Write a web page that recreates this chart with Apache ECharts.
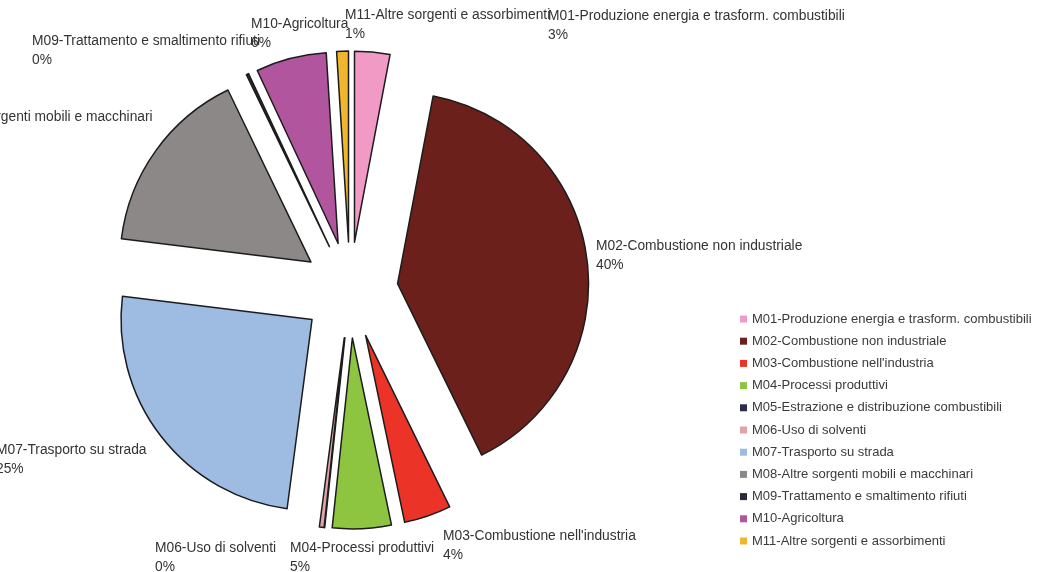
<!DOCTYPE html>
<html>
<head>
<meta charset="utf-8">
<script src="https://cdn.jsdelivr.net/npm/echarts@6/dist/echarts.min.js"></script>
<style>
  html, body { margin: 0; padding: 0; background: #ffffff; }
  #chart { width: 1048px; height: 572px; }
</style>
</head>
<body>
<div id="chart"></div>
<script>
// Emission sources (macrosectors) and their share of the total
const categories = [
  'M01-Produzione energia e trasform. combustibili',
  'M02-Combustione non industriale',
  "M03-Combustione nell'industria",
  'M04-Processi produttivi',
  'M05-Estrazione e distribuzione combustibili',
  'M06-Uso di solventi',
  'M07-Trasporto su strada',
  'M08-Altre sorgenti mobili e macchinari',
  'M09-Trattamento e smaltimento rifiuti',
  'M10-Agricoltura',
  'M11-Altre sorgenti e assorbimenti'
];
const shares = [3, 40, 4, 5, 0, 0.4, 25, 16, 0.2, 6, 1];

const sliceColors = [
  '#F29AC6', '#6B201C', '#EC3327', '#8DC540', '#2C2C52', '#E0A3A6',
  '#9EBBE2', '#8C8888', '#2A2A38', '#B2559F', '#F0B72E'
];

// Where each data label's text block starts (left, top)
const labelSpots = [
  [548, 7], [596, 237], [443, 527], [290, 539], [0, 0], [155, 539],
  [-4, 441], [-82, 108], [32, 32], [251, 15], [345, 6]
];

const FONT = 'Liberation Sans, Arial, sans-serif';
const PIE_CENTER = [350, 290];
const PIE_RADIUS = 191;

const chart = echarts.init(document.getElementById('chart'), null, { renderer: 'canvas' });

// Exploded slices: every slice is pulled out from the centre
const sliceData = categories.map((name, i) => ({
  name: name,
  value: shares[i],
  selected: true,
  itemStyle: { color: sliceColors[i] }
}));

// Same values again, drawn unfilled, carrying the data labels
const labelData = categories.map((name, i) => ({
  name: name,
  value: shares[i],
  label: { show: i !== 4 }
}));

chart.setOption({
  backgroundColor: '#ffffff',
  animation: false,
  color: sliceColors,
  legend: {
    orient: 'vertical',
    left: 735,
    top: 307,
    icon: 'rect',
    itemWidth: 7,
    itemHeight: 7,
    itemGap: 8.2,
    data: categories,
    selectedMode: false,
    itemStyle: { borderWidth: 0 },
    textStyle: {
      fontFamily: FONT,
      fontSize: 13,
      lineHeight: 14,
      color: '#3a3a3a'
    }
  },
  series: [{
    type: 'pie',
    center: PIE_CENTER,
    radius: PIE_RADIUS,
    startAngle: 90,
    clockwise: true,
    selectedMode: 'multiple',
    selectedOffset: 48,
    avoidLabelOverlap: false,
    emphasis: { disabled: true },
    itemStyle: { borderColor: '#1c1c1c', borderWidth: 1.5 },
    select: { itemStyle: { borderColor: '#1c1c1c', borderWidth: 1.5 } },
    label: { show: false },
    labelLine: { show: false },
    data: sliceData
  }, {
    type: 'pie',
    center: PIE_CENTER,
    radius: PIE_RADIUS,
    startAngle: 90,
    clockwise: true,
    silent: true,
    z: 3,
    avoidLabelOverlap: false,
    emphasis: { disabled: true },
    itemStyle: { color: 'rgba(0,0,0,0)', borderWidth: 0 },
    label: {
      show: true,
      position: 'outside',
      fontFamily: FONT,
      fontSize: 13.8,
      lineHeight: 19,
      color: '#333333',
      formatter: p => p.name + '\n' + Math.round(p.percent) + '%'
    },
    labelLine: { show: false },
    labelLayout: p => ({
      x: labelSpots[p.dataIndex][0],
      y: labelSpots[p.dataIndex][1],
      align: 'left',
      verticalAlign: 'top'
    }),
    data: labelData
  }]
});
</script>
</body>
</html>
